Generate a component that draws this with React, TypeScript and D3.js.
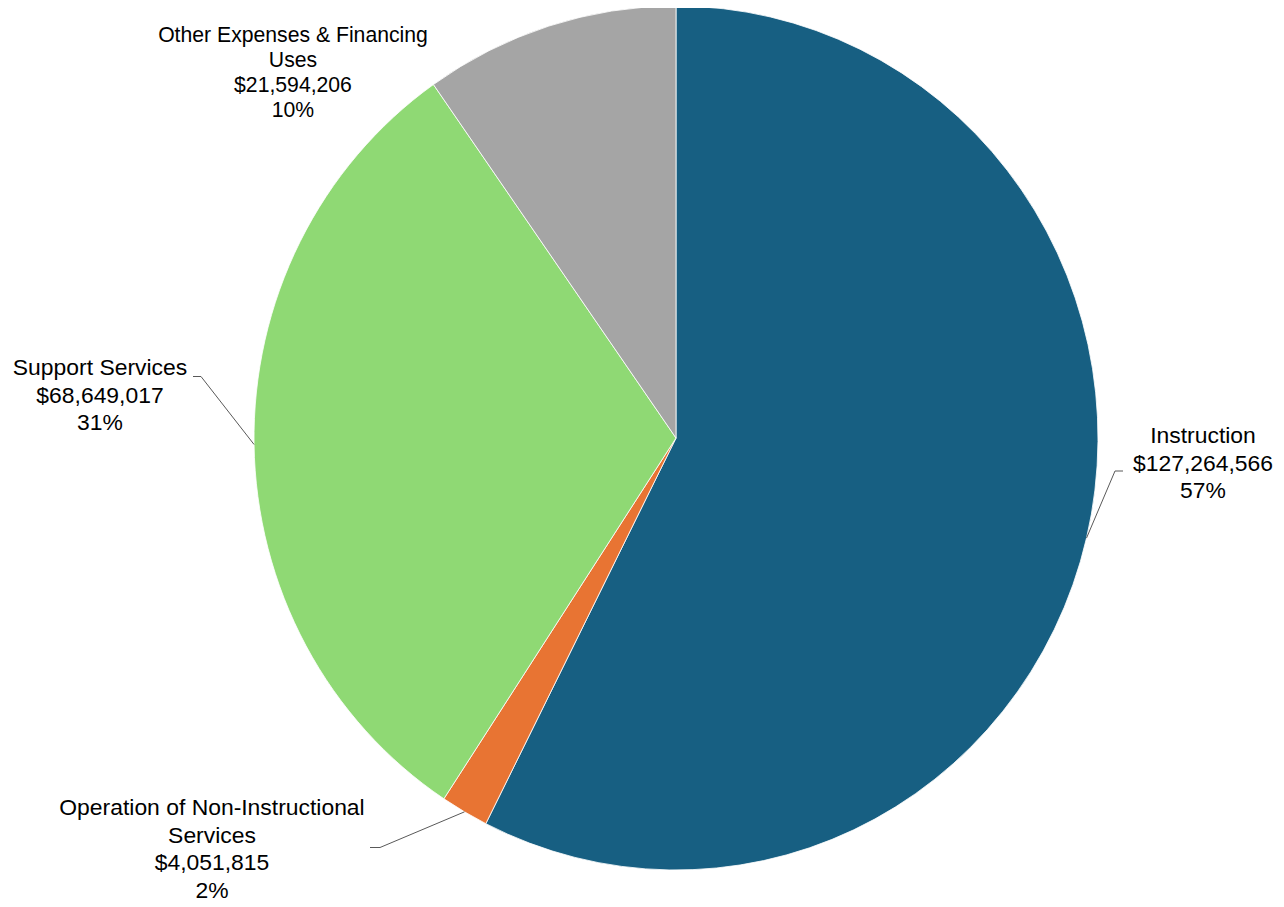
import React from "react";
import * as d3 from "d3";

const categories = [
  "Instruction",
  "Operation of Non-Instructional Services",
  "Support Services",
  "Other Expenses & Financing Uses",
];
const values = [127264566, 4051815, 68649017, 21594206];
const percentLabels = ["57%", "2%", "31%", "10%"];
const labelLines = [
  ["Instruction"],
  ["Operation of Non-Instructional", "Services"],
  ["Support Services"],
  ["Other Expenses & Financing", "Uses"],
];
const colors = ["#175F82", "#E87433", "#8FD974", "#A5A5A5"];

const W = 1284;
const H = 907;
const cx = 668;
const cy = 430;
const rx = 422;
const ry = 432;

// label layout: center x, first baseline, line height, font size, elbow (page coords)
const labelLayout = [
  { x: 1203, y: 443, lh: 27.6, fs: 22.9, elbow: [1115, 471], end: [1123, 471] },
  { x: 212, y: 815, lh: 27.7, fs: 22.9, elbow: [380, 847.5], end: [370, 847.5] },
  { x: 100, y: 375, lh: 27.6, fs: 22.9, elbow: [201, 376.5], end: [193, 376.5] },
  { x: 293, y: 41.7, lh: 25.1, fs: 21.2, elbow: null, end: null },
];

export default function App() {
  const pie = d3
    .pie<number>()
    .sort(null)
    .value((d) => d);
  const arcs = pie(values);
  const arc = d3.arc<d3.PieArcDatum<number>>().innerRadius(0).outerRadius(rx);
  const fmt = d3.format("$,");
  const ox = 8;
  const oy = 8;

  return (
    <svg width={W} height={H} style={{ display: "block", margin: 0 }}>
      <g transform={`translate(${cx},${cy}) scale(1,${ry / rx})`}>
        {arcs.map((a, i) => (
          <path
            key={i}
            d={arc(a) || ""}
            fill={colors[i]}
            stroke="#ffffff"
            strokeWidth={0.8}
          />
        ))}
      </g>
      {arcs.map((a, i) => {
        const L = labelLayout[i];
        const mid = (a.startAngle + a.endAngle) / 2;
        const px = cx + rx * Math.sin(mid);
        const py = cy - ry * Math.cos(mid);
        const lines = [...labelLines[i], fmt(values[i]), percentLabels[i]];
        return (
          <g key={i}>
            {L.elbow && (
              <polyline
                points={`${px},${py} ${L.elbow[0] - ox},${L.elbow[1] - oy} ${L.end[0] - ox},${L.end[1] - oy}`}
                fill="none"
                stroke="#595959"
                strokeWidth={1}
              />
            )}
            <text
              x={L.x - ox}
              y={L.y - oy}
              textAnchor="middle"
              fontFamily="'Liberation Sans', Arial, sans-serif"
              fontSize={L.fs}
              fill="#000"
            >
              {lines.map((t, j) => (
                <tspan key={j} x={L.x - ox} dy={j === 0 ? 0 : L.lh}>
                  {t}
                </tspan>
              ))}
            </text>
          </g>
        );
      })}
    </svg>
  );
}
